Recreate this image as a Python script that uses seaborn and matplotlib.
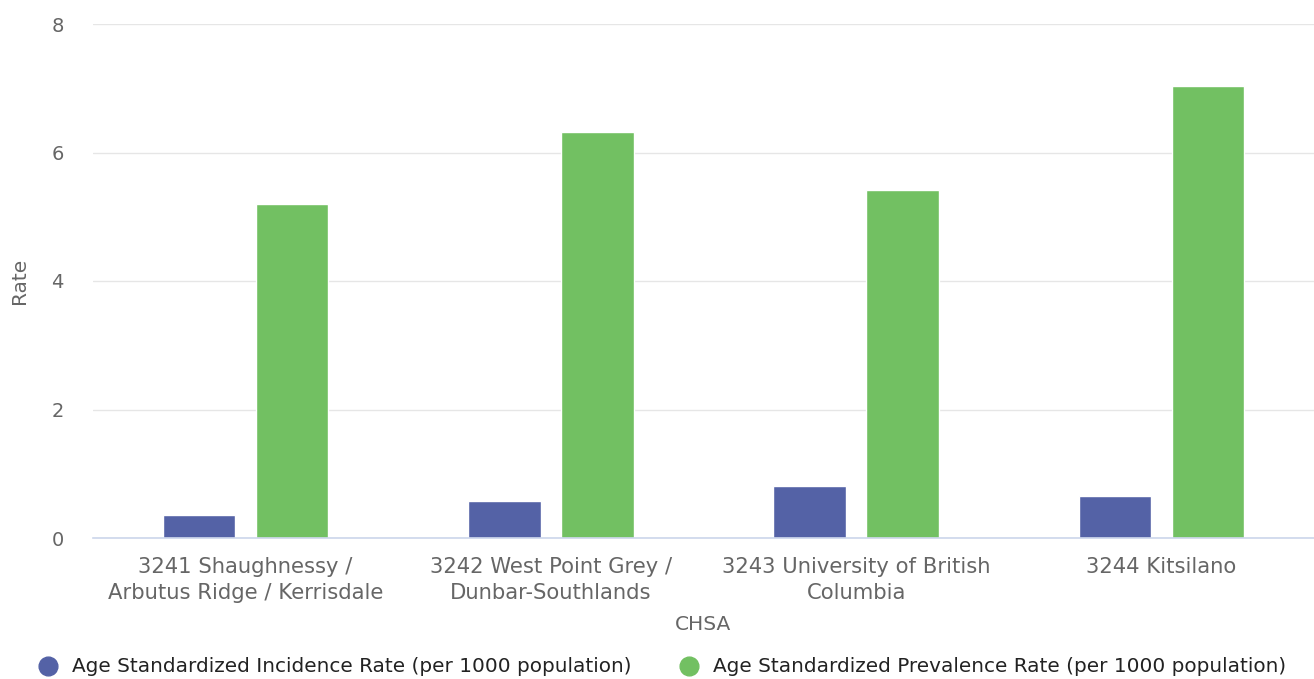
import matplotlib
matplotlib.use("Agg")
import matplotlib.pyplot as plt
from matplotlib.lines import Line2D
import seaborn as sns
import pandas as pd

categories = [
    "3241 Shaughnessy /\nArbutus Ridge / Kerrisdale",
    "3242 West Point Grey /\nDunbar-Southlands",
    "3243 University of British\nColumbia",
    "3244 Kitsilano",
]
incidence = [0.36, 0.57, 0.81, 0.66]
prevalence = [5.20, 6.32, 5.41, 7.03]
series_names = [
    "Age Standardized Incidence Rate (per 1000 population)",
    "Age Standardized Prevalence Rate (per 1000 population)",
]
colors = ["#5462a6", "#72c062"]
y_ticks = [0, 2, 4, 6, 8]

df = pd.DataFrame({
    "CHSA": categories * 2,
    "Rate": incidence + prevalence,
    "Series": [series_names[0]] * 4 + [series_names[1]] * 4,
})

sns.set_theme(style="white")
plt.rcParams["font.family"] = ["DejaVu Sans"]

fig = plt.figure(figsize=(13.14, 6.79), dpi=100)
ax = fig.add_axes([93 / 1314, 1 - 538 / 679, 1 - 93 / 1314, (538 - 24) / 679])

sns.barplot(data=df, x="CHSA", y="Rate", hue="Series", palette=colors,
            width=0.61, gap=0.22, ax=ax, edgecolor="white", linewidth=1,
            saturation=1, legend=False)

ax.set_xlim(-0.5, 3.5)
ax.set_ylim(0, 8)
ax.set_yticks(y_ticks)
ax.yaxis.grid(True, color="#e6e6e6", linewidth=1)
ax.set_axisbelow(True)
for s in ["top", "right", "left"]:
    ax.spines[s].set_visible(False)
ax.spines["bottom"].set_color("#ccd6eb")
ax.spines["bottom"].set_linewidth(1.2)
ax.tick_params(axis="y", length=0, labelsize=14, colors="#666666", pad=21)
ax.tick_params(axis="x", length=0, labelsize=15.2, colors="#666666", pad=13.5)
for lab in ax.get_xticklabels():
    lab.set_linespacing(1.42)
ax.set_ylabel("Rate", fontsize=14.5, color="#666666", labelpad=16)
ax.set_xlabel("CHSA", fontsize=14.5, color="#666666", labelpad=8)

handles = [Line2D([0], [0], marker="o", linestyle="", markersize=13.5,
                  markerfacecolor=c, markeredgecolor=c) for c in colors]
fig.legend(handles, series_names, loc="center", bbox_to_anchor=(0.5, 1 - 667 / 679),
           ncol=2, frameon=False, fontsize=14.4, labelcolor="#222222",
           handletextpad=0.2, columnspacing=1.9)

fig.savefig("out.png", dpi=100)
